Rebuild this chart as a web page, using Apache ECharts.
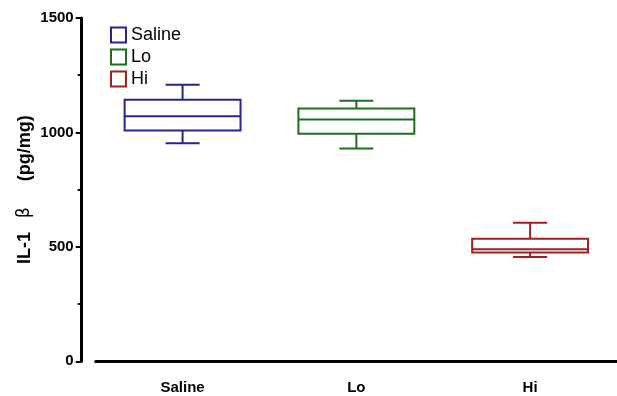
<!DOCTYPE html>
<html><head><meta charset="utf-8">
<script src="https://cdn.jsdelivr.net/npm/echarts@6/dist/echarts.min.js"></script>
<style>html,body{margin:0;padding:0;background:#fff}#c{width:617px;height:396px}</style>
</head><body><div id="c"></div>
<script>
const categories = ['Saline', 'Lo', 'Hi'];
const seriesNames = ['Saline', 'Lo', 'Hi'];
// [lower whisker, Q1, median, Q3, upper whisker]
const salineBox = [953, 1008, 1071, 1143, 1208];
const loBox = [930, 994, 1056, 1105, 1138];
const hiBox = [456, 475, 490, 535, 605];
const yTickValues = [0, 500, 1000, 1500];
const colors = ['#25258f', '#1e6e1e', '#a11f1f'];

const boxes = [salineBox, loBox, hiBox];

function makeRender(color) {
  return function (params, api) {
    const x = api.value(0);
    const lo = api.coord([x, api.value(1)]);
    const q1 = api.coord([x, api.value(2)]);
    const med = api.coord([x, api.value(3)]);
    const q3 = api.coord([x, api.value(4)]);
    const hi = api.coord([x, api.value(5)]);
    const band = api.size([1, 0])[0];
    const bw = band * 0.667;
    const cw = band * 0.196;
    const cx = med[0];
    const ls = { stroke: color, lineWidth: 2 };
    return {
      type: 'group',
      children: [
        { type: 'line', shape: { x1: cx, y1: hi[1], x2: cx, y2: q3[1] }, style: ls },
        { type: 'line', shape: { x1: cx, y1: q1[1], x2: cx, y2: lo[1] }, style: ls },
        { type: 'line', shape: { x1: cx - cw / 2, y1: hi[1], x2: cx + cw / 2, y2: hi[1] }, style: ls },
        { type: 'line', shape: { x1: cx - cw / 2, y1: lo[1], x2: cx + cw / 2, y2: lo[1] }, style: ls },
        { type: 'rect', shape: { x: cx - bw / 2, y: q3[1], width: bw, height: q1[1] - q3[1] }, style: { stroke: color, lineWidth: 2, fill: '#fff' } },
        { type: 'line', shape: { x1: cx - bw / 2, y1: med[1], x2: cx + bw / 2, y2: med[1] }, style: ls }
      ]
    };
  };
}

const series = seriesNames.map((name, i) => ({
  name: name,
  type: 'custom',
  renderItem: makeRender(colors[i]),
  itemStyle: { color: colors[i] },
  encode: { x: 0, y: [1, 2, 3, 4, 5] },
  data: [[i].concat(boxes[i])]
}));

const chart = echarts.init(document.getElementById('c'));
chart.setOption({
  animation: false,
  backgroundColor: '#fff',
  grid: { left: 95.7, right: 0, top: 18, bottom: 34.7, containLabel: false, outerBoundsMode: 'none' },
  legend: {
    orient: 'vertical',
    left: 110, top: 26, padding: 0,
    itemWidth: 15, itemHeight: 15, itemGap: 4,
    textStyle: { fontFamily: 'Liberation Sans, Arial, sans-serif', fontSize: 18, color: '#000' },
    data: seriesNames.map((n, i) => ({
      name: n, icon: 'rect',
      itemStyle: { color: '#fff', borderColor: colors[i], borderWidth: 2 }
    }))
  },
  xAxis: {
    type: 'category',
    data: categories,
    offset: 11.7,
    axisLine: { lineStyle: { color: '#000', width: 3 } },
    axisTick: { alignWithLabel: true, length: 5, lineStyle: { color: '#000', width: 2 } },
    axisLabel: { fontFamily: 'Liberation Sans, Arial, sans-serif', fontWeight: 'bold', fontSize: 15, color: '#000', margin: 7 },
    splitLine: { show: false }
  },
  yAxis: {
    type: 'value',
    min: 0, max: 1500, interval: 500,
    offset: 14,
    name: '{b|IL-1}{n|β}{b|(pg/mg)}',
    nameLocation: 'middle',
    nameGap: 48,
    nameMoveOverlap: false,
    nameRotate: 90,
    nameTextStyle: {
      rich: {
        b: { fontFamily: 'Liberation Sans, Arial, sans-serif', fontWeight: 'bold', fontSize: 18, color: '#000' },
        n: { fontFamily: 'DejaVu Sans, sans-serif', fontSize: 17, color: '#000', padding: [0, 26, 0, 14] }
      }
    },
    axisLine: { show: true, lineStyle: { color: '#000', width: 3 } },
    axisTick: { show: true, length: 6, lineStyle: { color: '#000', width: 2 } },
    minorTick: { show: true, splitNumber: 2, length: 4, lineStyle: { color: '#000', width: 2 } },
    axisLabel: {
      fontFamily: 'Liberation Sans, Arial, sans-serif', fontWeight: 'bold', fontSize: 15, color: '#000', margin: 8,
      formatter: v => yTickValues.includes(v) ? String(v) : ''
    },
    splitLine: { show: false }
  },
  series: series
});
</script>
</body></html>
